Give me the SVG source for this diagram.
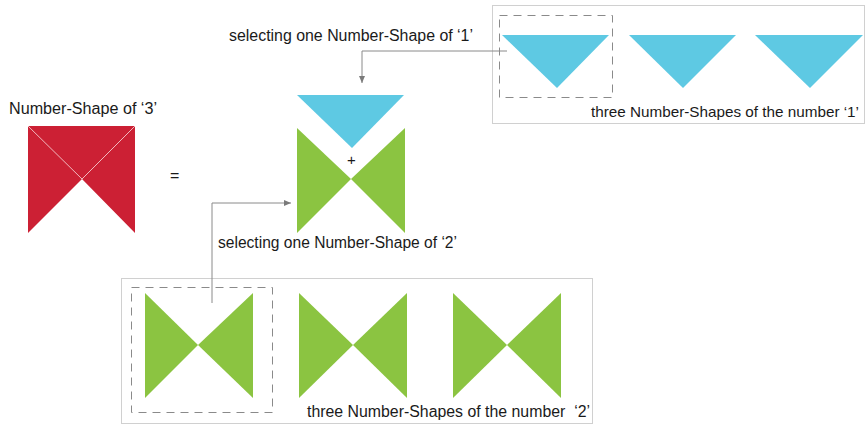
<svg xmlns="http://www.w3.org/2000/svg" width="868" height="425" viewBox="0 0 868 425">
<style>
text{font-family:"Liberation Sans",Arial,sans-serif;font-size:16px;fill:#1a1a1a}
.small{font-size:15px}
.blue{fill:#5ec9e3}
.green{fill:#8bc441}
.red{fill:#cc2034}
.box{fill:none;stroke:#d0d0d0;stroke-width:1}
.dash{fill:none;stroke:#8a8a8a;stroke-width:1;stroke-dasharray:8 6}
.conn{fill:none;stroke:#8a8a8a;stroke-width:1}
</style>
<defs>
<marker id="ah" markerWidth="8" markerHeight="8" refX="7" refY="4" orient="auto" markerUnits="userSpaceOnUse">
<path d="M0,1 L7,4 L0,7 Z" fill="#7a7a7a"/>
</marker>
</defs>
<rect width="868" height="425" fill="#fff"/>

<g id="shape3">
<text x="9" y="114" textLength="148" lengthAdjust="spacingAndGlyphs">Number-Shape of ‘3’</text>
<polygon class="red" points="28,126 135,126 135,233 82,179 28,233"/>
<path d="M28,126 L82,179 L135,126" fill="none" stroke="#f1b7bd" stroke-width="1"/>
</g>

<g id="equals"><text x="170" y="181">=</text></g>

<g id="combined">
<polygon class="blue" points="297,95 404,95 352,148"/>
<polygon class="green" points="297,128 351,179 297,233"/>
<polygon class="green" points="405,128 351,179 405,233"/>
<text class="small" x="347" y="165">+</text>
<text x="218" y="248" textLength="239" lengthAdjust="spacingAndGlyphs">selecting one Number-Shape of ‘2’</text>
</g>

<g id="label1">
<text x="229" y="41" textLength="244" lengthAdjust="spacingAndGlyphs">selecting one Number-Shape of ‘1’</text>
</g>

<g id="ones">
<rect class="box" x="492.5" y="5.5" width="372" height="118"/>
<rect class="dash" x="499.5" y="15.5" width="113" height="82"/>
<polygon class="blue" points="502,35 609,35 557,88"/>
<polygon class="blue" points="629,35 736,35 683,88"/>
<polygon class="blue" points="755,35 863,35 810,88"/>
<text class="small" x="591" y="117" textLength="268" lengthAdjust="spacingAndGlyphs">three Number-Shapes of the number ‘1’</text>
</g>

<g id="twos">
<rect class="box" x="121.5" y="278.5" width="471" height="145"/>
<rect class="dash" x="131.5" y="287.5" width="141" height="125"/>
<polygon class="green" points="145,293 198,345 145,398"/>
<polygon class="green" points="253,293 198,345 253,398"/>
<polygon class="green" points="299,293 353,345 299,398"/>
<polygon class="green" points="407,293 353,345 407,398"/>
<polygon class="green" points="453,293 507,345 453,398"/>
<polygon class="green" points="561,293 507,345 561,398"/>
<text x="307" y="417" xml:space="preserve" textLength="283" lengthAdjust="spacingAndGlyphs">three Number-Shapes of the number  ‘2’</text>
</g>

<g id="connectors">
<path class="conn" d="M507,51 H362 V83" marker-end="url(#ah)"/>
<path class="conn" d="M212,303 V203 H291" marker-end="url(#ah)"/>
</g>
</svg>
